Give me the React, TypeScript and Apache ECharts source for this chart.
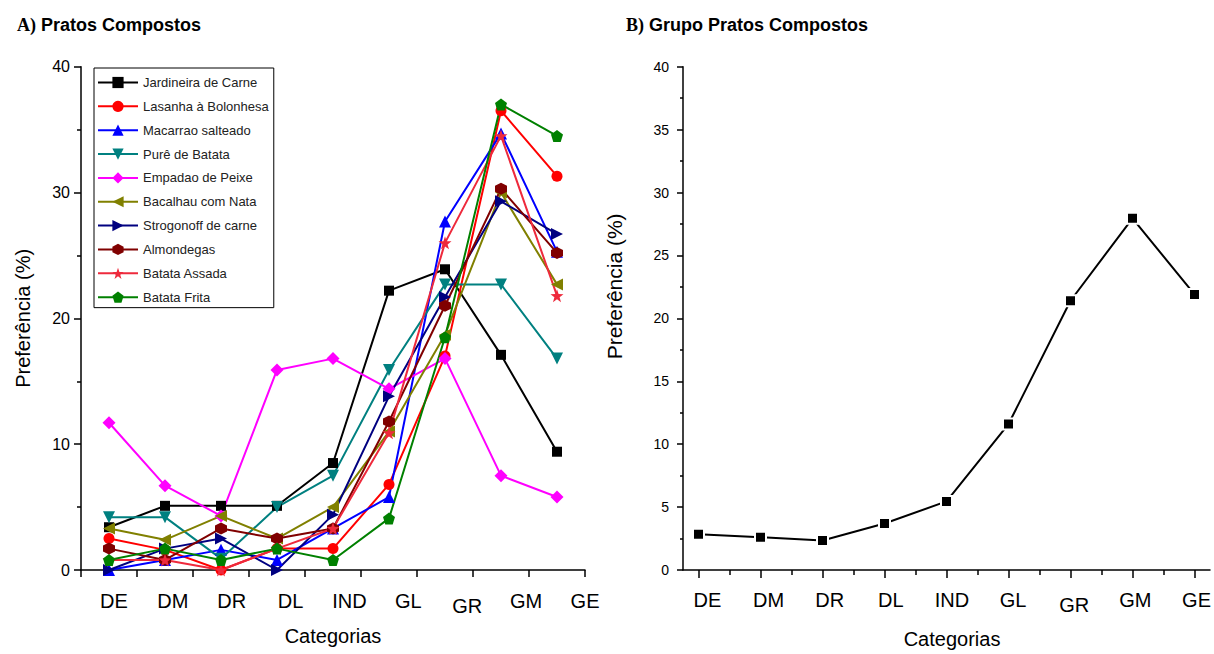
import React, { useEffect, useRef } from "react";
import * as echarts from "echarts";

// Food preference categories (x axis)
const categories = ["DE", "DM", "DR", "DL", "IND", "GL", "GR", "GM", "GE"];

// Panel A: preference (%) per dish
const jardineiraDeCarne = [3.4, 5.1, 5.1, 5.1, 8.5, 22.2, 23.9, 17.1, 9.4];
const lasanhaBolonhesa = [2.5, 1.6, 0, 1.7, 1.7, 6.8, 17.0, 36.5, 31.3];
const macarraoSalteado = [0, 0.8, 1.6, 0.8, 3.3, 5.8, 27.7, 34.7, 25.3];
const pureDeBatata = [4.2, 4.2, 0.9, 5.0, 7.5, 15.9, 22.7, 22.7, 16.8];
const empadaoDePeixe = [11.7, 6.7, 4.3, 15.9, 16.8, 14.4, 16.8, 7.5, 5.8];
const bacalhauComNata = [3.3, 2.4, 4.3, 2.5, 5.0, 11.0, 18.7, 30.0, 22.7];
const strogonoffDeCarne = [0, 1.7, 2.5, 0, 4.4, 13.8, 21.7, 29.3, 26.7];
const almondegas = [1.7, 0.8, 3.3, 2.5, 3.3, 11.8, 21.0, 30.3, 25.2];
const batataAssada = [0.8, 0.8, 0, 1.7, 3.3, 10.9, 26.0, 34.5, 21.8];
const batataFrita = [0.8, 1.7, 0.8, 1.7, 0.8, 4.1, 18.5, 37.0, 34.5];

// Panel B: whole group
const grupoPratosCompostos = [2.85, 2.6, 2.35, 3.7, 5.45, 11.6, 21.4, 27.95, 21.9];

// Axis ticks
const yTicksA = { min: 0, max: 40, interval: 10 };
const yTicksB = { min: 0, max: 40, interval: 5 };

const SANS = '"Liberation Sans", Arial, sans-serif';
const SERIF = '"Liberation Serif", "Times New Roman", serif';

const SYM = {
  downTriangle: "path://M0,0L10,0L5,9Z",
  leftTriangle: "path://M0,5L9,0L9,10Z",
  rightTriangle: "path://M0,0L9,5L0,10Z",
  hexagon: "path://M5,0L9.33,2.5L9.33,7.5L5,10L0.67,7.5L0.67,2.5Z",
  star:
    "path://M50,0L61.76,33.82L97.55,34.55L69.02,56.18L79.39,90.45L50,70L20.61,90.45L30.98,56.18L2.45,34.55L38.24,33.82Z",
  pentagon: "path://M50,0L97.55,34.55L79.39,90.45L20.61,90.45L2.45,34.55Z",
};

const dishSeries = [
  { name: "Jardineira de Carne", data: jardineiraDeCarne, color: "#000000", symbol: "rect", size: 10 },
  { name: "Lasanha à Bolonhesa", data: lasanhaBolonhesa, color: "#ff0000", symbol: "circle", size: 11 },
  { name: "Macarrao salteado", data: macarraoSalteado, color: "#0000ff", symbol: "triangle", size: 12 },
  { name: "Purê de Batata", data: pureDeBatata, color: "#008080", symbol: SYM.downTriangle, size: 12 },
  { name: "Empadao de Peixe", data: empadaoDePeixe, color: "#ff00ff", symbol: "diamond", size: 13 },
  { name: "Bacalhau com Nata", data: bacalhauComNata, color: "#808000", symbol: SYM.leftTriangle, size: 12 },
  { name: "Strogonoff de carne", data: strogonoffDeCarne, color: "#000080", symbol: SYM.rightTriangle, size: 12 },
  { name: "Almondegas", data: almondegas, color: "#800000", symbol: SYM.hexagon, size: 12 },
  { name: "Batata Assada", data: batataAssada, color: "#ee2a3c", symbol: SYM.star, size: 13 },
  { name: "Batata Frita", data: batataFrita, color: "#008000", symbol: SYM.pentagon, size: 12 },
];

const labelFormatter = (v: string) => (v === "GR" ? `{low|${v}}` : v);
const catLabel = {
  interval: 0,
  fontSize: 20,
  color: "#000",
  fontFamily: SANS,
  formatter: labelFormatter,
  rich: { low: { fontSize: 20, fontFamily: SANS, color: "#000", padding: [5, 0, 0, 0] } },
};

export default function App() {
  const ref = useRef<HTMLDivElement>(null);

  useEffect(() => {
    document.body.style.margin = "0";
    if (!ref.current) return;
    const chart = echarts.init(ref.current, null, { renderer: "svg" });

    const axisLine = { show: true, lineStyle: { color: "#000", width: 1.5 } };
    const top = 66.7;
    const height = 503.3;

    chart.setOption({
      animation: false,
      backgroundColor: "#ffffff",
      textStyle: { fontFamily: SANS },
      title: [
        {
          text: "{a|A)} {b|Pratos Compostos}",
          left: 12,
          top: 11,
          textStyle: {
            rich: {
              a: { fontFamily: SERIF, fontWeight: "bold", fontSize: 18, color: "#000" },
              b: { fontFamily: SANS, fontWeight: "bold", fontSize: 18, color: "#000" },
            },
          },
        },
        {
          text: "{a|B)} {b|Grupo Pratos Compostos}",
          left: 621,
          top: 11,
          textStyle: {
            rich: {
              a: { fontFamily: SERIF, fontWeight: "bold", fontSize: 18, color: "#000" },
              b: { fontFamily: SANS, fontWeight: "bold", fontSize: 18, color: "#000" },
            },
          },
        },
      ],
      legend: {
        data: dishSeries.map((s) => s.name),
        orient: "vertical",
        left: 94,
        top: 68,
        itemWidth: 40,
        itemHeight: 14,
        itemGap: 10.85,
        padding: [8, 5, 4, 3],
        borderColor: "#000",
        borderWidth: 1,
        textStyle: { fontSize: 13, color: "#222", fontFamily: SANS },
      },
      grid: [
        { left: 81, top, width: 504, height },
        { left: 683, top, width: 527, height },
        { left: 84.5, top, width: 530, height },
        { left: 707.5, top, width: 489.5, height },
      ],
      xAxis: [
        {
          type: "category",
          gridIndex: 0,
          position: "bottom",
          data: categories,
          boundaryGap: true,
          axisLine,
          axisTick: { show: true, length: 7, lineStyle: { color: "#000", width: 1.5 } },
          axisLabel: { show: false },
          splitLine: { show: false },
          name: "Categorias",
          nameLocation: "middle",
          nameGap: 56,
          nameTextStyle: { fontSize: 20, color: "#000", fontFamily: SANS },
        },
        {
          type: "category",
          gridIndex: 2,
          position: "bottom",
          data: categories,
          boundaryGap: true,
          axisLine: { show: false },
          axisTick: { show: false },
          axisLabel: { ...catLabel, margin: 21 },
          splitLine: { show: false },
        },
        {
          type: "value",
          gridIndex: 1,
          position: "bottom",
          min: 0.75,
          max: 9.25,
          axisLine,
          axisTick: {
            show: true,
            length: 8,
            customValues: categories.map((_, i) => i + 1),
            lineStyle: { color: "#000", width: 1.5 },
          },
          axisLabel: { show: false },
          splitLine: { show: false },
        },
        {
          type: "value",
          gridIndex: 1,
          position: "bottom",
          min: 0.75,
          max: 9.25,
          axisLine: { show: false },
          axisTick: {
            show: true,
            length: 5,
            customValues: categories.slice(1).map((_, i) => i + 1.5),
            lineStyle: { color: "#000", width: 1.5 },
          },
          axisLabel: { show: false },
          splitLine: { show: false },
        },
        {
          type: "category",
          gridIndex: 3,
          position: "bottom",
          data: categories,
          boundaryGap: false,
          axisLine: { show: false },
          axisTick: { show: false },
          axisLabel: { ...catLabel, margin: 23 },
          splitLine: { show: false },
          name: "Categorias",
          nameLocation: "middle",
          nameGap: 62,
          nameTextStyle: { fontSize: 20, color: "#000", fontFamily: SANS },
        },
      ],
      yAxis: [
        {
          type: "value",
          gridIndex: 0,
          ...yTicksA,
          axisLine,
          axisTick: { show: true, length: 7, lineStyle: { color: "#000", width: 1.5 } },
          minorTick: { show: true, splitNumber: 2, length: 4, lineStyle: { color: "#000", width: 1.5 } },
          axisLabel: { fontSize: 16, color: "#000", margin: 11, fontFamily: SANS },
          splitLine: { show: false },
          minorSplitLine: { show: false },
          name: "Preferência (%)",
          nameLocation: "middle",
          nameGap: 48,
          nameTextStyle: { fontSize: 20, color: "#000", fontFamily: SANS },
        },
        {
          type: "value",
          gridIndex: 1,
          ...yTicksB,
          axisLine,
          axisTick: { show: true, length: 6, lineStyle: { color: "#000", width: 1.5 } },
          minorTick: { show: true, splitNumber: 2, length: 3, lineStyle: { color: "#000", width: 1.5 } },
          axisLabel: { fontSize: 14, color: "#000", margin: 14, fontFamily: SANS },
          splitLine: { show: false },
          minorSplitLine: { show: false },
          name: "Preferência (%)",
          nameLocation: "middle",
          nameGap: 58,
          nameTextStyle: { fontSize: 21, color: "#000", fontFamily: SANS, padding: [0, 0, 0, 64] },
        },
        { type: "value", gridIndex: 2, show: false, min: 0, max: 40 },
        { type: "value", gridIndex: 3, show: false, min: 0, max: 40 },
      ],
      series: [
        ...dishSeries.map((s) => ({
          type: "line",
          name: s.name,
          xAxisIndex: 0,
          yAxisIndex: 0,
          data: s.data,
          symbol: s.symbol,
          symbolSize: s.size,
          showAllSymbol: true,
          color: s.color,
          lineStyle: { color: s.color, width: 2 },
          itemStyle: { color: s.color },
          emphasis: { disabled: true },
        })),
        {
          type: "line",
          name: "Grupo Pratos Compostos",
          xAxisIndex: 2,
          yAxisIndex: 1,
          data: grupoPratosCompostos.map((v, i) => [i + 1, v]),
          symbol: "rect",
          symbolSize: 11,
          color: "#000",
          lineStyle: { color: "#000", width: 2 },
          itemStyle: { color: "#000", borderColor: "#fff", borderWidth: 2 },
          emphasis: { disabled: true },
        },
      ],
    });

    return () => chart.dispose();
  }, []);

  return <div ref={ref} style={{ width: 1214, height: 654 }} />;
}
